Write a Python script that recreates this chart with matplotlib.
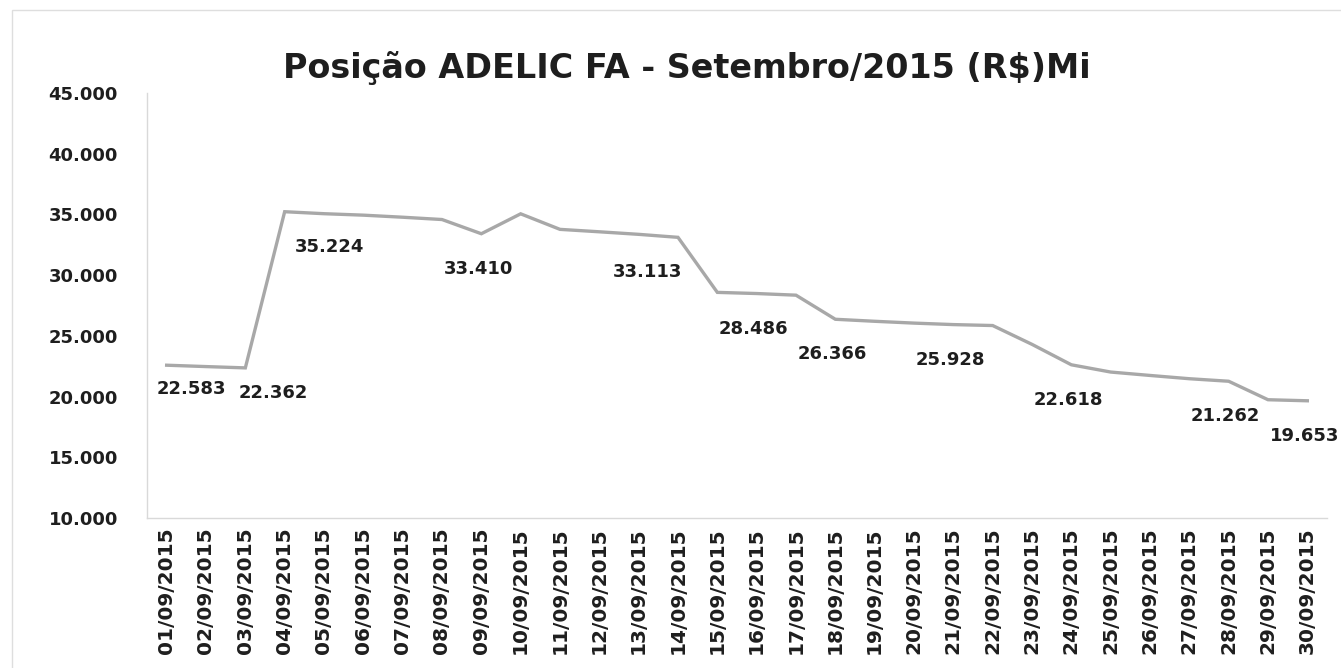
import matplotlib.pyplot as plt
from matplotlib.patches import Rectangle

# ---------- DADOS ----------
DATES = [f"{d:02d}/09/2015" for d in range(1, 31)]

# Posição diária (R$ mil)
POSITIONS = [
    22583, 22470, 22362, 35224, 35060, 34940, 34770, 34580, 33410, 35050,
    33770, 33570, 33360, 33113, 28580, 28486, 28350, 26366, 26200, 26050,
    25928, 25850, 24300, 22618, 22020, 21740, 21470, 21262, 19740, 19653,
]

# Pontos com rótulo de valor (índice do dia)
LABELED_DAYS = [0, 2, 3, 8, 13, 15, 17, 20, 23, 27, 29]

# deslocamento dos rótulos em pixels (dx, dy); padrão logo abaixo do ponto
LABEL_SHIFT = {0: (25, -24), 2: (28, -25), 3: (45, -35), 13: (-31, -35)}
DEFAULT_SHIFT = (-3, -35)

TITLE = "Posição ADELIC FA - Setembro/2015 (R$)Mi"
Y_TICKS = [10000, 15000, 20000, 25000, 30000, 35000, 40000, 45000]

FONT = "DejaVu Sans"
TEXT_COLOR = "#1e1e1e"
LINE_COLOR = "#a8a8a8"
AXIS_COLOR = "#d9d9d9"


def fmt_br(v):
    return f"{int(round(v)):,}".replace(",", ".")


fig = plt.figure(figsize=(13.41, 6.68), dpi=100)
ax = fig.add_axes([147 / 1341, 1 - 518 / 668, 1180 / 1341, 425 / 668])

x = list(range(len(DATES)))
ax.plot(x, POSITIONS, color=LINE_COLOR, linewidth=2.4, solid_joinstyle="miter")

for i in LABELED_DAYS:
    dx, dy = LABEL_SHIFT.get(i, DEFAULT_SHIFT)
    ax.annotate(fmt_br(POSITIONS[i]), (x[i], POSITIONS[i]),
                xytext=(dx * 0.72, dy * 0.72), textcoords="offset points",
                ha="center", va="center", fontsize=13, fontweight="bold",
                family=FONT, color=TEXT_COLOR)

ax.set_xlim(-0.5, len(DATES) - 0.5)
ax.set_ylim(Y_TICKS[0], Y_TICKS[-1])
ax.set_xticks(x)
ax.set_xticklabels(DATES, rotation=90, fontsize=14.5, fontweight="bold",
                   family=FONT, color=TEXT_COLOR)
ax.set_yticks(Y_TICKS)
ax.set_yticklabels([fmt_br(v) for v in Y_TICKS], fontsize=13,
                   fontweight="bold", family=FONT, color=TEXT_COLOR)
ax.tick_params(axis="both", length=0)
ax.tick_params(axis="y", pad=21)
ax.tick_params(axis="x", pad=7)

for side in ["top", "right"]:
    ax.spines[side].set_visible(False)
for side in ["left", "bottom"]:
    ax.spines[side].set_color(AXIS_COLOR)
    ax.spines[side].set_linewidth(1.0)

fig.text(687 / 1341, 1 - 68 / 668, TITLE, ha="center", va="center",
         fontsize=24, fontweight="bold", family=FONT, color=TEXT_COLOR)

# moldura do gráfico
fig.patches.append(Rectangle((12 / 1341, -0.05), 1.2, 1 - 10 / 668 + 0.05,
                             transform=fig.transFigure, fill=False,
                             edgecolor="#dedede", linewidth=1.0))

fig.savefig("out.png", dpi=100, facecolor="white")
